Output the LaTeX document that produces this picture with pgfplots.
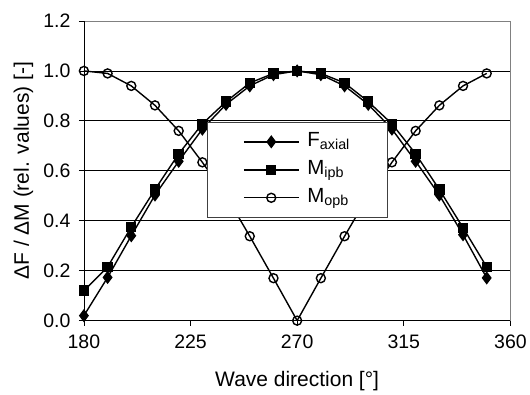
\documentclass[border=0pt]{standalone}
\usepackage{pgfplots}
\pgfplotsset{compat=1.18}
\usepackage{pgfplotstable}
\usepackage{fontspec}
\setmainfont{Liberation Sans}
\newcommand{\tickfont}{\fontsize{19.5}{22}\selectfont}
\newcommand{\labfont}{\fontsize{21}{24}\selectfont}
\newcommand{\legfont}{\fontsize{20.5}{24}\selectfont}

\pgfplotstableread{
x F Mipb Mopb
180 0.02 0.12 1.0
190 0.173 0.215 0.99
200 0.34 0.375 0.94
210 0.503 0.525 0.862
220 0.638 0.668 0.76
230 0.767 0.788 0.634
240 0.866 0.877 0.5
250 0.94 0.952 0.338
260 0.985 0.99 0.17
270 1.0 1.0 0.0
280 0.985 0.99 0.17
290 0.94 0.952 0.338
300 0.866 0.877 0.5
310 0.767 0.788 0.634
320 0.638 0.668 0.76
330 0.503 0.525 0.862
340 0.344 0.372 0.94
350 0.171 0.215 0.99
}\datatable

\begin{document}
\begin{tikzpicture}
\begin{axis}[
  scale only axis,
  width=427pt, height=300pt,
  xmin=180, xmax=360, ymin=0, ymax=1.2,
  xtick={180,225,270,315,360},
  ytick={0,0.2,0.4,0.6,0.8,1.0,1.2},
  yticklabels={0.0,0.2,0.4,0.6,0.8,1.0,1.2},
  /pgf/number format/assume math mode=true,
  tick align=outside,
  major tick length=5pt,
  xtick pos=bottom, ytick pos=left,
  tick style={black, line width=0.8pt},
  ymajorgrids,
  major grid style={black, line width=0.8pt},
  axis line style={draw=gray, line width=0.8pt},
  tick label style={font=\tickfont},
  yticklabel style={xshift=-5pt},
  xticklabel style={yshift=-6pt},
  xlabel={Wave direction [°]},
  ylabel={ΔF / ΔM (rel. values) [-]},
  label style={font=\labfont},
  xlabel style={at={(axis description cs:0.5,0)}, anchor=base, yshift=-66pt},
  ylabel style={at={(axis description cs:0,0.5)}, anchor=base, yshift=55pt},
  legend cell align=left,
  legend style={
    at={(rel axis cs:0.288,0.663)}, anchor=north west,
    draw=darkgray, fill=white, line width=0.8pt,
    font=\legfont,
    inner xsep=36pt, inner ysep=9pt,
    row sep=7pt, column sep=8pt,
    nodes={inner sep=0pt, text height=15pt, text depth=6pt, text width=44pt, align=left},
  },
  legend image code/.code={
    \draw[#1, mark repeat=2, mark phase=2] plot coordinates {(0pt,0pt) (27.5pt,0pt) (55pt,0pt)};
  },
  after end axis/.code={
    \draw[black, line width=0.8pt] (rel axis cs:0,0) -- (rel axis cs:0,1);
    \draw[black, line width=0.8pt] (rel axis cs:0,0) -- (rel axis cs:1,0);
  },
]
\addplot[black, line width=1.4pt, mark=diamond*, mark size=5.5pt, mark options={solid, fill=black}] table[x=x, y=F] {\datatable};
\addlegendentry{F\textsubscript{axial}}
\addplot[black, line width=1.4pt, mark=square*, mark size=4.5pt, mark options={solid, fill=black}] table[x=x, y=Mipb] {\datatable};
\addlegendentry{M\textsubscript{ipb}}
\addplot[black, line width=1.4pt, mark=o, mark size=4.5pt, mark options={solid, fill=white, line width=1.4pt}] table[x=x, y=Mopb] {\datatable};
\addlegendentry{M\textsubscript{opb}}
\end{axis}
\useasboundingbox (-84pt,-71pt) rectangle (446pt,321pt);
\end{tikzpicture}
\end{document}
